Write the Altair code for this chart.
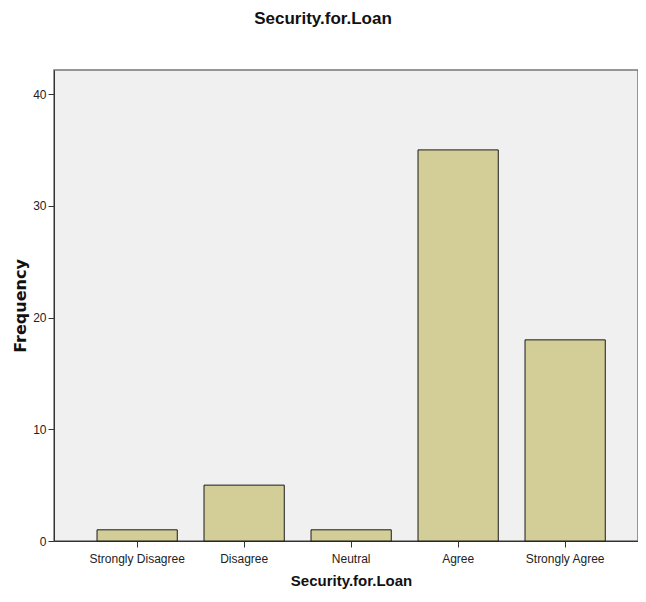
import altair as alt
import pandas as pd

categories = ["Strongly Disagree", "Disagree", "Neutral", "Agree", "Strongly Agree"]
frequencies = [1, 5, 1, 35, 18]
y_ticks = [0, 10, 20, 30, 40]

df = pd.DataFrame({"cat": categories, "freq": frequencies})

font = "Liberation Sans, sans-serif"

chart = alt.Chart(df).mark_bar(
    color="#d3ce98", stroke="#1a1a1a", strokeWidth=1
).encode(
    x=alt.X("cat:N", sort=categories,
            scale=alt.Scale(paddingInner=0.25, paddingOuter=0.354, align=0.568),
            axis=alt.Axis(title="Security.for.Loan", labelAngle=0, labelFontSize=12,
                          labelFont=font, labelColor="#222", tickSize=6, tickColor="#333",
                          domainColor="#333", titleFontSize=15, titleFont=font,
                          titleFontWeight="bold", titleColor="#111", titlePadding=9,
                          labelPadding=6, titleX=297)),
    y=alt.Y("freq:Q", scale=alt.Scale(domain=[0, 42.15], nice=False),
            axis=alt.Axis(title="Frequency", values=y_ticks, grid=False, labelFontSize=12,
                          labelFont=font, labelColor="#222", tickSize=6, tickColor="#333",
                          domainColor="#333", titleFontSize=16, titleFont="DejaVu Sans",
                          titleFontWeight="bold", titleColor="#111", titlePadding=4,
                          labelPadding=2)),
).properties(
    width=584, height=471,
    title=alt.TitleParams("Security.for.Loan", fontSize=17, font=font, fontWeight="bold",
                          color="#111", offset=42, anchor="middle", dx=-23),
    autosize=alt.AutoSizeParams(type="none"),
    padding={"left": 46, "top": 62, "right": 0, "bottom": 49},
).configure_view(
    fill="#f0f0f0", stroke="#777", strokeWidth=1.5
)

chart.save("out.html", embed_options={"renderer": "svg", "actions": False})
